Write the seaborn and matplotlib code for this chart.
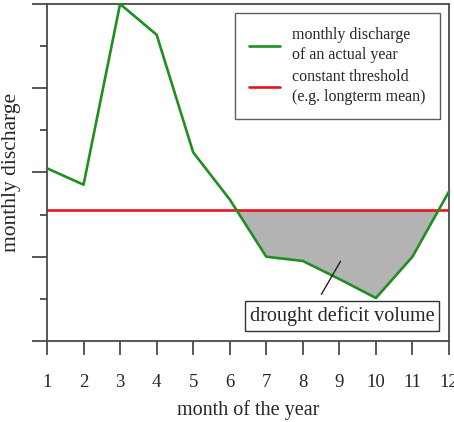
import numpy as np
import pandas as pd
import seaborn as sns
import matplotlib.pyplot as plt
from matplotlib.ticker import MultipleLocator

# monthly discharge of one year (arbitrary units, axis has no values)
months = [1, 2, 3, 4, 5, 6, 7, 8, 9, 10, 11, 12]
discharge = [4.1, 3.71, 8.0, 7.27, 4.48, 3.36, 2.0, 1.9, 1.47, 1.02, 2.0, 3.55]
threshold = 3.12

df = pd.DataFrame({'month': months, 'discharge': discharge})

sns.set_style('ticks')
plt.rcParams['font.family'] = ['Liberation Serif', 'DejaVu Serif']

fig = plt.figure(figsize=(4.54, 4.22), dpi=100)
ax = fig.add_axes([0.1035, 0.192, 0.8855, 0.7985])

green = '#1f8f1f'
red = '#e8141c'
edge = '#4a4a4a'

# deficit area below threshold
x = np.array(months, dtype=float)
y = np.array(discharge)
ax.fill_between(x, y, threshold, where=y < threshold, interpolate=True,
                color='#b3b3b3', linewidth=0, zorder=1)

sns.lineplot(data=df, x='month', y='discharge', ax=ax, color=green, lw=1.9,
             label='monthly discharge\nof an actual year', zorder=3, clip_on=False)
ax.axhline(threshold, color=red, lw=1.9, zorder=2,
           label='constant threshold\n(e.g. longterm mean)')

ax.set_xlim(1, 12)
ax.set_ylim(0, 8)
ax.set_xticks(months)
ax.yaxis.set_major_locator(MultipleLocator(2))
ax.yaxis.set_minor_locator(MultipleLocator(1))
ax.set_yticklabels([])
ax.tick_params(axis='x', length=10, width=1.3, color=edge, labelsize=13.5, pad=14)
ax.tick_params(axis='y', which='major', length=11, width=1.3, color=edge)
ax.tick_params(axis='y', which='minor', length=5, width=1.3, color=edge)
for s in ax.spines.values():
    s.set_color(edge)
    s.set_linewidth(1.3)

ax.set_xlabel('month of the year', fontsize=14.5, labelpad=6.5)
ax.set_ylabel('monthly discharge', fontsize=15.5, labelpad=4)

leg = ax.legend(loc='upper right', bbox_to_anchor=(0.978, 0.973), fontsize=11.5,
                frameon=True, fancybox=False, edgecolor='#333333',
                handlelength=1.9, handletextpad=0.8, borderpad=0.9,
                labelspacing=0.38, borderaxespad=0)
leg.get_frame().set_linewidth(1.0)
for t in leg.get_texts():
    t.set_linespacing(1.3)

ax.text(9.07, 0.6, 'drought deficit volume', fontsize=14.5, ha='center', va='center',
        bbox=dict(boxstyle='square,pad=0.25', fc='white', ec='#333333', lw=1.0), zorder=4)
ax.annotate('', xy=(9.07, 1.95), xytext=(8.47, 1.05),
            arrowprops=dict(arrowstyle='-', color='#222222', lw=1.0), zorder=4)

fig.savefig('out.png', dpi=100)
